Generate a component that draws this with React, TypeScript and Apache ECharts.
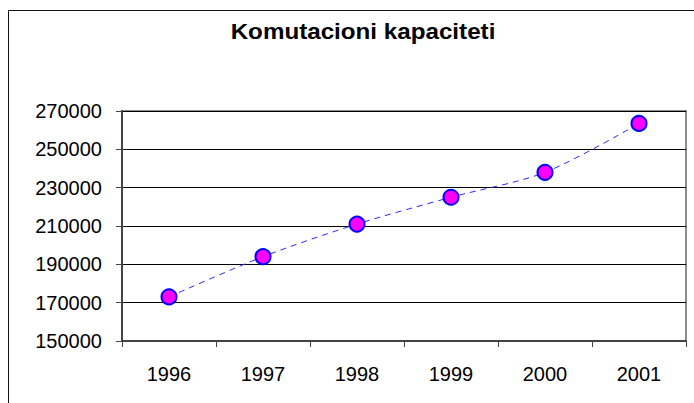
import React, { useEffect, useRef } from "react";
import * as echarts from "echarts";

const titleText = "Komutacioni kapaciteti";
const years = ["1996", "1997", "1998", "1999", "2000", "2001"];
const capacity = [173000, 194000, 211000, 225000, 238000, 263500];
const yMin = 150000;
const yMax = 270000;
const yStep = 20000;

const FONT = '"Liberation Sans", Arial, sans-serif';

export default function App() {
  const ref = useRef<HTMLDivElement>(null);
  useEffect(() => {
    if (!ref.current) return;
    const chart = echarts.init(ref.current, null, { renderer: "svg" });
    chart.setOption({
      animation: false,
      backgroundColor: "#ffffff",
      graphic: [
        {
          type: "rect",
          shape: { x: 8.5, y: 10.5, width: 720, height: 420 },
          style: { fill: "none", stroke: "#111", lineWidth: 1 },
          silent: true,
        },
        {
          type: "text",
          x: 363,
          y: 31,
          scaleX: 1.1,
          style: {
            text: titleText,
            font: 'bold 22px "Liberation Sans", Arial, sans-serif',
            fill: "#000",
            textAlign: "center",
            textVerticalAlign: "middle",
          },
          silent: true,
        },
      ],
      grid: {
        left: 122,
        right: 8,
        top: 111,
        bottom: 62,
        show: true,
        borderColor: "#8c8c8c",
        borderWidth: 2,
      },
      xAxis: {
        type: "category",
        data: years,
        boundaryGap: true,
        axisLine: { lineStyle: { color: "#444", width: 2 } },
        axisTick: { show: true, alignWithLabel: false, length: 6, lineStyle: { color: "#444", width: 1 } },
        axisLabel: { margin: 23, fontFamily: FONT, fontSize: 20, color: "#000" },
        splitLine: { show: false },
      },
      yAxis: {
        type: "value",
        min: yMin,
        max: yMax,
        interval: yStep,
        axisLine: { show: true, lineStyle: { color: "#444", width: 2 } },
        axisTick: { show: true, length: 6, lineStyle: { color: "#444", width: 1 } },
        axisLabel: {
          margin: 20,
          fontFamily: FONT,
          fontSize: 20,
          color: "#000",
          formatter: (v: number) => String(v),
        },
        splitLine: { show: true, lineStyle: { color: "#000", width: 1 } },
      },
      series: [
        {
          type: "line",
          data: capacity,
          smooth: 0.3,
          symbol: "circle",
          symbolSize: 15,
          lineStyle: { color: "#2a2aff", width: 1, type: [6, 5] },
          itemStyle: { color: "#ff00ff", borderColor: "#0000ff", borderWidth: 2 },
          z: 5,
        },
      ],
    });
    return () => chart.dispose();
  }, []);
  return (
    <div
      ref={ref}
      style={{ position: "fixed", left: 0, top: 0, width: 694, height: 403 }}
    />
  );
}
